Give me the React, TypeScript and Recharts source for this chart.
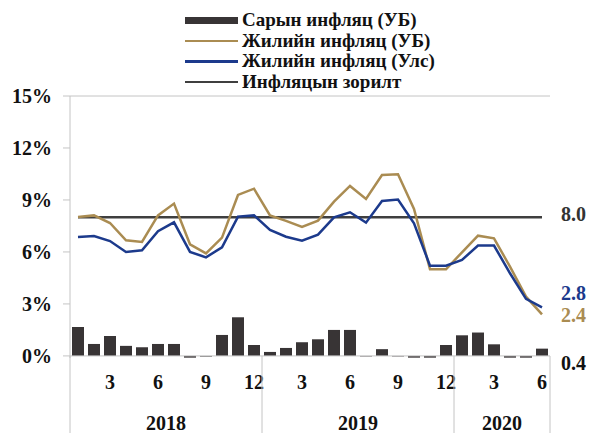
import React from "react";
import {
  ComposedChart,
  Bar,
  Line,
  XAxis,
  YAxis,
  Legend,
  ReferenceLine,
  LabelList,
} from "recharts";

// ---- data ----
const years = ["2018", "2019", "2020"];
const monthsPerYear = [12, 12, 6];
const monthlyUB = [
  1.67, 0.69, 1.15, 0.58, 0.5, 0.69, 0.69, -0.1, -0.04, 1.21, 2.23, 0.63,
  0.23, 0.46, 0.79, 0.96, 1.5, 1.5, -0.03, 0.39, -0.03, -0.1, -0.1, 0.63,
  1.19, 1.35, 0.67, -0.1, -0.1, 0.42,
];
const yoyUB = [
  8.02, 8.11, 7.67, 6.67, 6.58, 8.11, 8.79, 6.44, 5.92, 6.83, 9.29, 9.65,
  8.11, 7.79, 7.44, 7.81, 8.9, 9.81, 9.06, 10.44, 10.48, 8.48, 5.0, 5.0,
  5.98, 6.94, 6.79, 5.15, 3.42, 2.4,
];
const yoyNational = [
  6.87, 6.92, 6.63, 6.0, 6.1, 7.2, 7.71, 6.0, 5.69, 6.27, 8.04, 8.11,
  7.27, 6.88, 6.65, 7.0, 8.0, 8.29, 7.69, 8.94, 9.02, 7.65, 5.21, 5.21,
  5.54, 6.37, 6.37, 4.77, 3.29, 2.8,
];
const targetValue = 8.0;
const shownMonths = [3, 6, 9, 12];
const yTicks = [0, 3, 6, 9, 12, 15];
const seriesNames = [
  "Сарын инфляц (УБ)",
  "Жилийн инфляц (УБ)",
  "Жилийн инфляц (Улс)",
  "Инфляцын зорилт",
];
const endLabels = ["0.4", "2.4", "2.8", "8.0"];

// ---- build table ----
type Row = {
  key: string;
  month: number;
  year: string;
  monthly: number;
  ub: number;
  nat: number;
  target: number;
};
const data: Row[] = [];
years.forEach((y, yi) => {
  for (let m = 1; m <= monthsPerYear[yi]; m++) {
    const i = data.length;
    data.push({
      key: `${y}-${m}`,
      month: m,
      year: y,
      monthly: monthlyUB[i],
      ub: yoyUB[i],
      nat: yoyNational[i],
      target: targetValue,
    });
  }
});
// index of tick after which the year label is centred, plus group boundaries
const yearCentre: Record<number, string> = {};
const groupEnds: number[] = [];
{
  let start = 0;
  years.forEach((y, yi) => {
    const n = monthsPerYear[yi];
    yearCentre[start + Math.ceil(n / 2) - 1] = n % 2 === 0 ? y + "|half" : y;
    start += n;
    groupEnds.push(start - 1);
  });
}

const FONT = '"Liberation Serif", "Times New Roman", serif';
const GRAY = "#c4c4c4";
const GOLD = "#aa8c52";
const BLUE = "#1c3a8c";
const TARGET = "#3f3f3f";
const BARC = "#383435";
const LAST = data.length - 1;

const XTick = (props: any) => {
  const { x, y, payload, index } = props;
  const i = payload?.index ?? index;
  const off = payload?.offset ?? 8;
  const row = data[i];
  const els: React.ReactNode[] = [];
  if (row && shownMonths.includes(row.month)) {
    els.push(
      <text key="m" x={x} y={y + 31} textAnchor="middle" fontFamily={FONT} fontWeight="bold" fontSize={20} fill="#111">
        {row.month}
      </text>
    );
  }
  const yc = yearCentre[i];
  if (yc) {
    const [label, half] = yc.split("|");
    els.push(
      <text key="y" x={half ? x + off : x} y={y + 72} textAnchor="middle" fontFamily={FONT} fontWeight="bold" fontSize={20} fill="#111">
        {label}
      </text>
    );
  }
  if (i === 0) {
    els.push(<line key="l0" x1={x - off} x2={x - off} y1={y - 2} y2={y + 80} stroke={GRAY} strokeWidth={1} />);
  }
  if (groupEnds.includes(i)) {
    els.push(<line key="le" x1={x + off} x2={x + off} y1={y - 2} y2={y + 80} stroke={GRAY} strokeWidth={1} />);
  }
  return <g>{els}</g>;
};

const makeEndLabel = (text: string, color: string, dy: number) => (props: any) => {
  const { x, y, index, width } = props;
  if (index !== LAST) return null;
  const cx = width != null ? x + width / 2 : x;
  return (
    <text x={cx + 19} y={y + dy} dominantBaseline="central" fontFamily={FONT} fontWeight="bold" fontSize={20} fill={color}>
      {text}
    </text>
  );
};

const LegendContent = () => {
  const items = [
    { name: seriesNames[0], color: BARC, bar: true },
    { name: seriesNames[1], color: GOLD },
    { name: seriesNames[2], color: BLUE },
    { name: seriesNames[3], color: TARGET },
  ];
  return (
    <div style={{ fontFamily: FONT, fontWeight: "bold", fontSize: 19, color: "#111" }}>
      {items.map((it) => (
        <div key={it.name} style={{ display: "flex", alignItems: "center", height: 20.5, whiteSpace: "nowrap" }}>
          <div style={{ width: 53, height: it.bar ? 7 : 2.5, background: it.color, marginRight: 4 }} />
          <span style={{ lineHeight: "20px" }}>{it.name}</span>
        </div>
      ))}
    </div>
  );
};

export default function App() {
  return (
    <div style={{ position: "absolute", left: 0, top: 0, width: 591, height: 433, background: "#fff" }}>
      <ComposedChart
        width={591}
        height={433}
        data={data}
        margin={{ top: 96, right: 41, left: 8, bottom: 0 }}
        barCategoryGap={2}
      >
        <XAxis
          dataKey="key"
          interval={0}
          height={75}
          axisLine={false}
          tickLine={false}
          tickSize={0}
          tickMargin={0}
          tick={<XTick />}
        />
        <YAxis
          yAxisId="l"
          width={62}
          domain={[-0.12, 15]}
          allowDataOverflow
          ticks={yTicks}
          tickFormatter={(v: number) => `${v}%`}
          axisLine={{ stroke: GRAY }}
          tickLine={{ stroke: GRAY }}
          tickSize={7}
          tickMargin={11}
          tick={{ fontFamily: FONT, fontWeight: "bold", fontSize: 20, fill: "#111", dy: 0 }}
        />
        <YAxis
          yAxisId="r"
          orientation="right"
          width={0}
          domain={[0, 1]}
          tick={false}
          tickLine={false}
          axisLine={{ stroke: GRAY }}
        />
        <ReferenceLine yAxisId="l" y={15} stroke={GRAY} />
        <ReferenceLine yAxisId="l" y={0} stroke={GRAY} />
        <Legend
          layout="horizontal"
          verticalAlign="middle"
          align="center"
          wrapperStyle={{ top: 10, left: 185, width: "auto" }}
          content={<LegendContent />}
        />
        <Bar yAxisId="l" dataKey="monthly" name={seriesNames[0]} fill={BARC} barSize={12} isAnimationActive={false}>
          <LabelList dataKey="monthly" content={makeEndLabel(endLabels[0], "#111", 14.5)} />
        </Bar>
        <Line yAxisId="l" dataKey="target" name={seriesNames[3]} stroke={TARGET} strokeWidth={2.5} dot={false} isAnimationActive={false}>
          <LabelList dataKey="target" content={makeEndLabel(endLabels[3], "#333", -3)} />
        </Line>
        <Line yAxisId="l" dataKey="ub" name={seriesNames[1]} stroke={GOLD} strokeWidth={2.5} dot={false} isAnimationActive={false}>
          <LabelList dataKey="ub" content={makeEndLabel(endLabels[1], GOLD, 1)} />
        </Line>
        <Line yAxisId="l" dataKey="nat" name={seriesNames[2]} stroke={BLUE} strokeWidth={2.5} dot={false} isAnimationActive={false}>
          <LabelList dataKey="nat" content={makeEndLabel(endLabels[2], BLUE, -14)} />
        </Line>
      </ComposedChart>
    </div>
  );
}
